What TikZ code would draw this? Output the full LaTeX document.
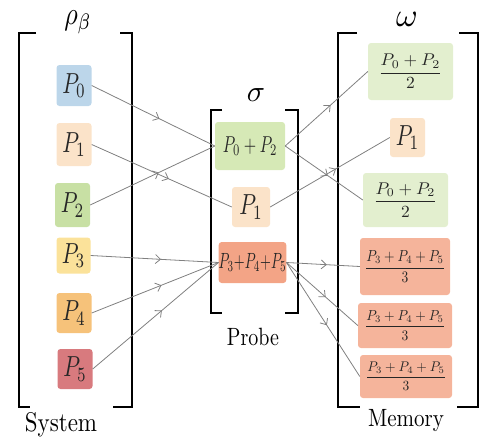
\documentclass[tikz,border=0pt]{standalone}
\usepackage{graphicx}
\usepackage{amsmath}
\usetikzlibrary{arrows.meta,decorations.markings}
\definecolor{cBlue}{HTML}{BCD6EA}
\definecolor{cPeach}{HTML}{FBE3C9}
\definecolor{cGreen}{HTML}{C8E0A4}
\definecolor{cYellow}{HTML}{FBE29A}
\definecolor{cOrange}{HTML}{F6C27A}
\definecolor{cRed}{HTML}{D87A7E}
\definecolor{cMidGreen}{HTML}{D6E9B6}
\definecolor{cSalmon}{HTML}{F3A486}
\definecolor{cLtGreen}{HTML}{E3EFCF}
\definecolor{cLtSalmon}{HTML}{F5B49B}
\newcommand{\sz}[3]{\scalebox{#1}[#2]{#3}}
\newcommand{\pp}[1]{\sz{2.15}{2.9}{$P_{#1}$}}
\tikzset{
  box/.style={rounded corners=3pt, inner sep=0pt, text=black!85},
  conn/.style={draw=black!50, line width=0.8pt,
    postaction={decorate},
    decoration={markings, mark=at position 0.55 with {\arrow{Straight Barb[length=5pt,width=9pt]}}}},
  brack/.style={line width=1.8pt, black},
  lbl/.style={inner sep=0pt},
}
\begin{document}
\begin{tikzpicture}[x=1pt,y=-1pt]
\useasboundingbox (0,0) rectangle (482,447);
% brackets
\draw[brack] (36,33)--(19,33)--(19,407)--(30,407);
\draw[brack] (120,33)--(132,33)--(132,407)--(113,407);
\draw[brack] (222,110)--(211,110)--(211,313)--(222,313);
\draw[brack] (285,110)--(298,110)--(298,313)--(285,313);
\draw[brack] (357,33)--(338,33)--(338,407)--(360,407);
\draw[brack] (459,33)--(478,33)--(478,407)--(457,407);
% labels
\node[lbl] (lrho) at (78,22) {\sz{2.6}{3.2}{$\rho_\beta$}};
\node[lbl] (lsig) at (256,95) {\sz{3}{3}{$\sigma$}};
\node[lbl] (lom) at (407,19) {\sz{3.3}{3.3}{$\omega$}};
\node[lbl] (lsys) at (61,425) {\sz{2.3}{2.7}{System}};
\node[lbl] (lpro) at (253,337) {\sz{2}{2.5}{Probe}};
\node[lbl] (lmem) at (406,421) {\sz{2.1}{2.5}{Memory}};
% left boxes
\node[box, fill=cBlue, minimum width=35pt, minimum height=41pt] (p0) at (74,85.5) {\pp{0}};
\node[box, fill=cPeach, minimum width=35pt, minimum height=43pt] (p1) at (74,144.5) {\pp{1}};
\node[box, fill=cGreen, minimum width=35pt, minimum height=44pt] (p2) at (72.5,205) {\pp{2}};
\node[box, fill=cYellow, minimum width=34pt, minimum height=36pt] (p3) at (73.5,255.5) {\pp{3}};
\node[box, fill=cOrange, minimum width=35pt, minimum height=40pt] (p4) at (74,313) {\pp{4}};
\node[box, fill=cRed, minimum width=35pt, minimum height=40pt] (p5) at (75,369) {\pp{5}};
% middle boxes
\node[box, fill=cMidGreen, minimum width=70pt, minimum height=48pt] (m02) at (250,146) {\sz{1.6}{2.3}{$P_0+P_2$}};
\node[box, fill=cPeach, minimum width=38pt, minimum height=40pt] (m1) at (251,207) {\pp{1}};
\node[box, fill=cSalmon, minimum width=67pt, minimum height=41pt] (m345) at (252.5,262.5) {\sz{1.4}{2.2}{$P_3{+}P_4{+}P_5$}};
% right boxes
\node[box, fill=cLtGreen, minimum width=85pt, minimum height=57pt] (r1) at (410.5,71.5) {\sz{1.75}{1.7}{$\dfrac{P_0+P_2}{2}$}};
\node[box, fill=cPeach, minimum width=35pt, minimum height=39pt] (r2) at (407.5,137.5) {\pp{1}};
\node[box, fill=cLtGreen, minimum width=85pt, minimum height=54pt] (r3) at (405.5,200) {\sz{1.75}{1.7}{$\dfrac{P_0+P_2}{2}$}};
\node[box, fill=cLtSalmon, minimum width=90pt, minimum height=57pt] (r4) at (405,266.5) {\sz{1.35}{1.6}{$\dfrac{P_3+P_4+P_5}{3}$}};
\node[box, fill=cLtSalmon, minimum width=94pt, minimum height=45pt] (r5) at (405,325.5) {\sz{1.35}{1.45}{$\dfrac{P_3+P_4+P_5}{3}$}};
\node[box, fill=cLtSalmon, minimum width=92pt, minimum height=43pt] (r6) at (406,376.5) {\sz{1.35}{1.4}{$\dfrac{P_3+P_4+P_5}{3}$}};
% connectors
\draw[conn] (p0.east) -- (m02.west);
\draw[conn] (p1.east) -- (m1.west);
\draw[conn] (p2.east) -- (m02.west);
\draw[conn] (p3.east) -- (m345.west);
\draw[conn] (p4.east) -- (m345.west);
\draw[conn] (p5.east) -- (m345.west);
\draw[conn] (m02.east) -- (r1.west);
\draw[conn] (m02.east) -- (r3.west);
\draw[conn] (m1.east) -- (r2.west);
\draw[conn] (m345.east) -- (r4.west);
\draw[conn] (m345.east) -- (r5.west);
\draw[conn] (m345.east) -- (r6.west);
\end{tikzpicture}
\end{document}
